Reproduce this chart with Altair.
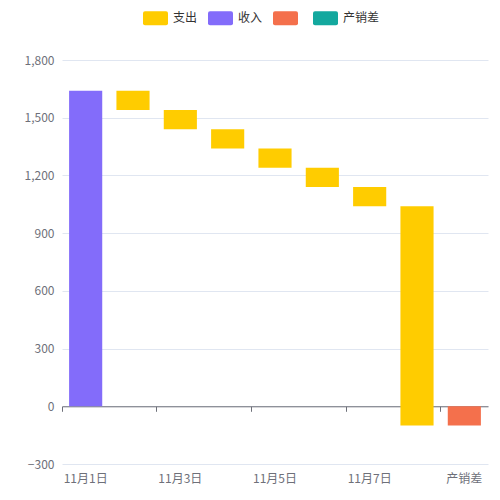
import altair as alt
import pandas as pd

categories = ["11月1日", "11月2日", "11月3日", "11月4日", "11月5日",
              "11月6日", "11月7日", "11月8日", "产销差"]
series = ["收入", "支出", "支出", "支出", "支出", "支出", "支出", "支出", "负"]
amounts = [1640, -100, -100, -100, -100, -100, -100, -1140, -100]

legend_domain = ["支出", "收入", "负", "产销差"]
legend_colors = ["#FFCC00", "#836CFA", "#F4704C", "#13A89E"]
label_values = ["11月1日", "11月3日", "11月5日", "11月7日", "产销差"]

rows = []
running = 0
for cat, ser, amt in zip(categories, series, amounts):
    if cat == "产销差":
        start, end = 0, running
    else:
        start = running
        end = running + amt
        running = end
    rows.append({"cat": cat, "series": ser, "start": start, "end": end})
df = pd.DataFrame(rows)

W, H = 426, 404
FONT = "Noto Sans CJK SC"

symbol_path = ("M-0.84,-0.56 L0.84,-0.56 Q1,-0.56 1,-0.4 L1,0.4 "
               "Q1,0.56 0.84,0.56 L-0.84,0.56 Q-1,0.56 -1,0.4 "
               "L-1,-0.4 Q-1,-0.56 -0.84,-0.56 Z")

chart = alt.Chart(df).mark_bar(width=alt.RelativeBandSize(0.7)).encode(
    x=alt.X("cat:N", sort=categories,
            scale=alt.Scale(paddingInner=0, paddingOuter=0),
            axis=alt.Axis(title=None, values=label_values, labelAngle=0,
                          bandPosition=0, offset=-(H / 7), labelPadding=62,
                          domainColor="#6E7079", tickColor="#6E7079",
                          tickSize=5, labelColor="#6E7079", labelFontSize=12,
                          labelFont=FONT, grid=False)),
    y=alt.Y("start:Q",
            scale=alt.Scale(domain=[-300, 1800], nice=False),
            axis=alt.Axis(title=None, values=[-300, 0, 300, 600, 900, 1200, 1500, 1800],
                          format=",d", domain=False, ticks=False,
                          labelColor="#6E7079", labelFontSize=12, labelFont=FONT,
                          labelPadding=8, gridColor="#E0E6F1")),
    y2="end:Q",
    color=alt.Color("series:N",
                    scale=alt.Scale(domain=legend_domain, range=legend_colors),
                    legend=alt.Legend(title=None, orient="none", direction="horizontal",
                                      legendX=81, legendY=-54.5, padding=0,
                                      symbolType=symbol_path, symbolSize=625,
                                      symbolStrokeWidth=0, symbolOpacity=1,
                                      labelOffset=5, columnPadding=10,
                                      labelFont=FONT, labelFontSize=12,
                                      labelColor="#333333",
                                      labelExpr="datum.label == '负' ? '' : datum.label")),
).properties(
    width=W, height=H,
    autosize=alt.AutoSizeParams(type="none"),
    padding={"left": 54, "top": 52, "right": 4, "bottom": 28},
).configure_view(stroke=None)

chart.save("out.html", embed_options={"renderer": "svg", "actions": False})
